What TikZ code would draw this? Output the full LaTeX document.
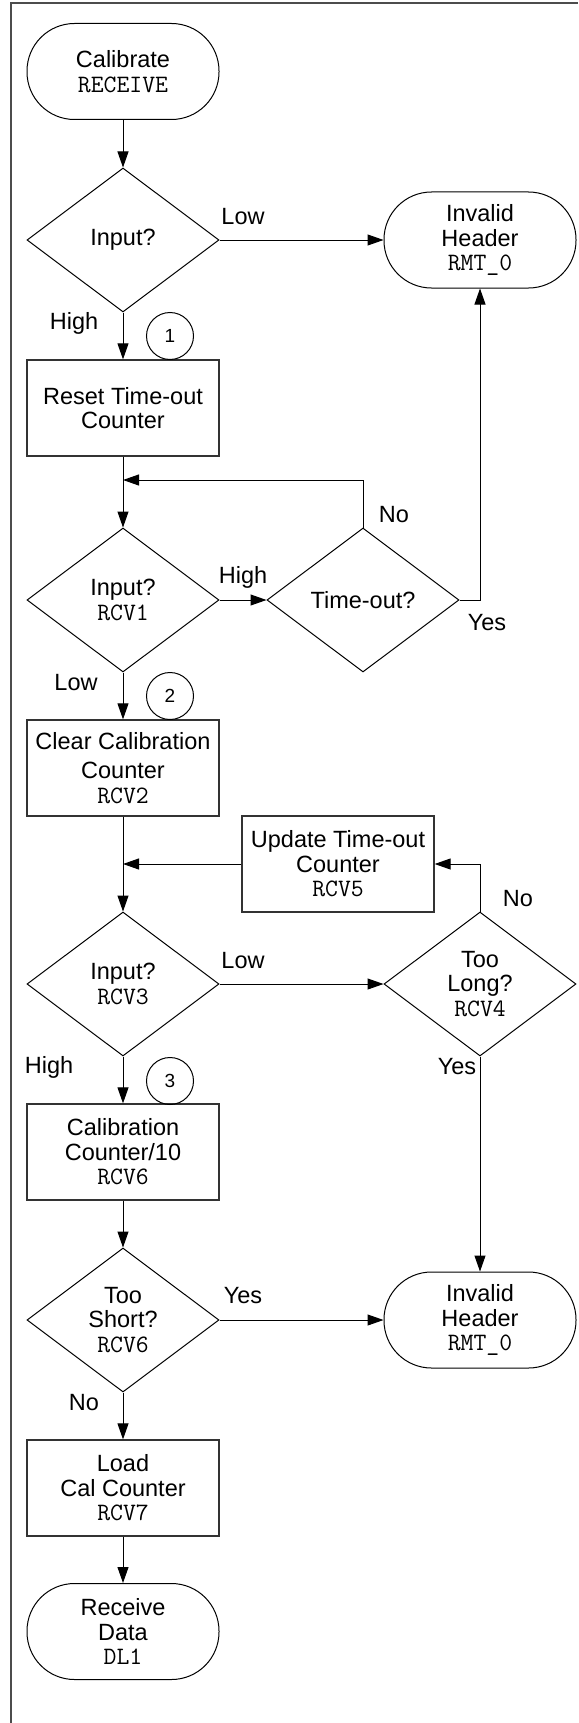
\documentclass[tikz,border=0pt]{standalone}
\usepackage{fontspec}
\setmainfont{Liberation Sans}
\usetikzlibrary{shapes.geometric,arrows.meta}
\newcommand{\mono}[1]{{\ttfamily\fontsize{25}{24.5}\selectfont #1}}
\begin{document}
\begin{tikzpicture}[x=1pt,y=-1pt,
  every node/.style={font=\fontsize{23.5}{24.5}\selectfont, text=black},
  proc/.style={draw=black!80, line width=1.3pt, minimum width=192pt, minimum height=96pt, inner sep=0pt, align=center},
  term/.style={draw=black, line width=1pt, rounded corners=47.5pt, minimum width=192pt, minimum height=96pt, inner sep=0pt, align=center},
  dec/.style={draw=black, line width=1pt, shape=diamond, aspect=1.333, minimum width=192pt, minimum height=144pt, inner sep=0pt},
  txt/.style={align=center, inner sep=0pt},
  lab/.style={inner sep=0pt},
  num/.style={draw=black, line width=1pt, circle, minimum size=47pt, inner sep=0pt, font=\fontsize{19}{19}\selectfont},
  arr/.style={draw=black, line width=1pt, -{Triangle[length=16pt,width=11pt]}},
  ln/.style={draw=black, line width=1pt}]
\useasboundingbox (0,0) rectangle (578,1723);
\fill[white] (0,0) rectangle (578,1723);
% frame
\draw[line width=2pt, black!70] (11,1723) -- (11,3) -- (578,3);

% nodes
\node[term] (cal) at (123,71.5) {Calibrate\\\mono{RECEIVE}};
\node[dec] (in1) at (123,240) {};
\node[txt] at (in1) {Input?};
\node[term] (inv1) at (480,240) {Invalid\\Header\\\mono{RMT\_0}};
\node[proc] (reset) at (123,408) {Reset Time-out\\Counter};
\coordinate (j1) at (123,480);
\node[dec] (in2) at (123,600) {};
\node[txt] at (in2) {Input?\\\mono{RCV1}};
\node[dec] (to) at (363,600) {};
\node[txt] at (to) {Time-out?};
\node[proc] (clr) at (123,768) {Clear Calibration\\[5pt]Counter\\\mono{RCV2}};
\coordinate (j2) at (123,864);
\node[proc] (upd) at (338,864) {Update Time-out\\Counter\\\mono{RCV5}};
\node[dec] (in3) at (123,984) {};
\node[txt] at (in3) {Input?\\\mono{RCV3}};
\node[dec] (long) at (480,984) {};
\node[txt] at (long) {Too\\Long?\\\mono{RCV4}};
\node[proc] (div) at (123,1152) {Calibration\\Counter/10\\\mono{RCV6}};
\node[dec] (short) at (123,1320) {};
\node[txt] at (short) {Too\\Short?\\\mono{RCV6}};
\node[term] (inv2) at (480,1320) {Invalid\\Header\\\mono{RMT\_0}};
\node[proc] (load) at (123,1488) {Load\\Cal Counter\\\mono{RCV7}};
\node[term] (rcv) at (123,1631.5) {Receive\\Data\\\mono{DL1}};

% circled numbers
\node[num] (c1) at (170,336) {1};
\node[num] (c2) at (170,696) {2};
\node[num] (c3) at (170,1081) {3};

% connectors
\draw[arr] (cal) -- (in1);
\draw[arr] (in1.east) -- (inv1.west);
\draw[arr] (in1.south) -- (reset.north);
\draw[ln] (reset.south) -- (j1);
\draw[arr] (j1) -- (in2.north);
\draw[arr] (to.north) |- (j1);
\draw[arr] (in2.east) -- (to.west);
\draw[arr] (to.east) -| (inv1.south);
\draw[arr] (in2.south) -- (clr.north);
\draw[ln] (clr.south) -- (j2);
\draw[arr] (j2) -- (in3.north);
\draw[arr] (upd.west) -- (j2);
\draw[arr] (long.north) |- (upd.east);
\draw[arr] (in3.east) -- (long.west);
\draw[arr] (in3.south) -- (div.north);
\draw[arr] (long.south) -- (inv2.north);
\draw[arr] (div.south) -- (short.north);
\draw[arr] (short.east) -- (inv2.west);
\draw[arr] (short.south) -- (load.north);
\draw[arr] (load.south) -- (rcv.north);

% labels
\node[lab] at (243,217) {Low};
\node[lab] at (74,323) {High};
\node[lab] at (394,515) {No};
\node[lab] at (243,577) {High};
\node[lab] at (487,623) {Yes};
\node[lab] at (76,683) {Low};
\node[lab] at (518,899) {No};
\node[lab] at (243,961) {Low};
\node[lab] at (49,1067) {High};
\node[lab] at (457,1067) {Yes};
\node[lab] at (243,1296) {Yes};
\node[lab] at (84,1403) {No};
\end{tikzpicture}
\end{document}
